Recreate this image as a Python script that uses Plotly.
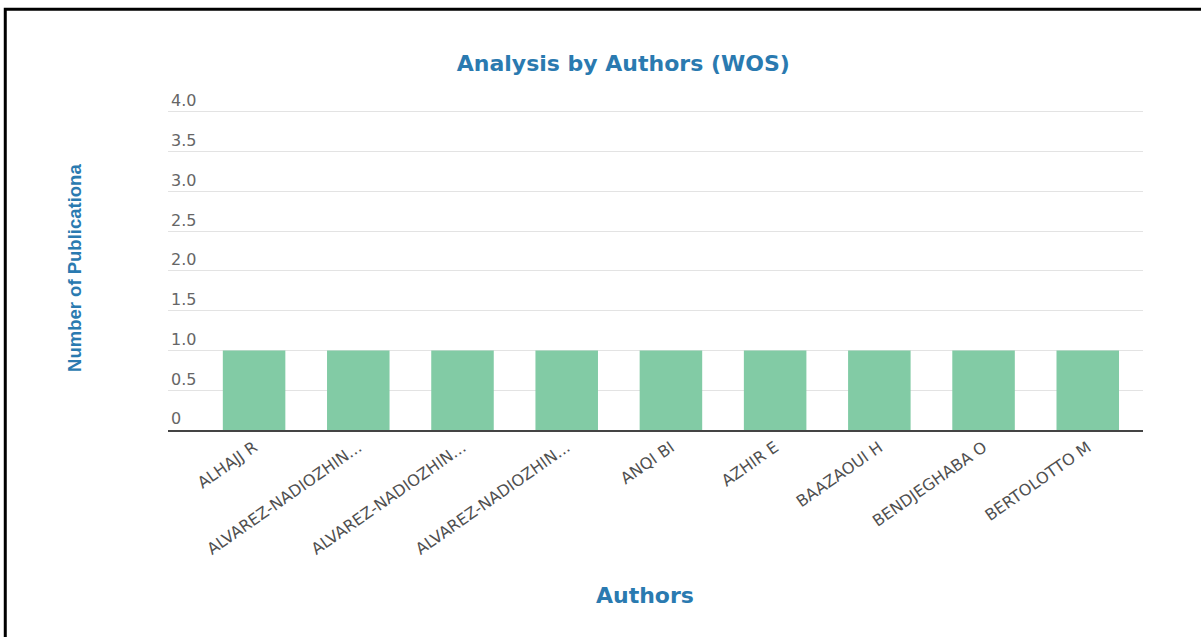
import plotly.graph_objects as go

# Author labels (as shown on the axis) and publication counts
authors = [
    "ALHAJJ R",
    "ALVAREZ-NADIOZHIN...",
    "ALVAREZ-NADIOZHIN...",
    "ALVAREZ-NADIOZHIN...",
    "ANQI BI",
    "AZHIR E",
    "BAAZAOUI H",
    "BENDJEGHABA O",
    "BERTOLOTTO M",
]
publications = [1, 1, 1, 1, 1, 1, 1, 1, 1]

y_ticks = [0, 0.5, 1.0, 1.5, 2.0, 2.5, 3.0, 3.5, 4.0]
y_tick_text = ["0", "0.5", "1.0", "1.5", "2.0", "2.5", "3.0", "3.5", "4.0"]

TITLE_BLUE = "#2a7ab0"
BAR_GREEN = "#82cba5"
positions = list(range(len(authors)))

# plot area: y=0 sits at 430px, 79.5px per unit; headroom above 4.0 keeps its label inside
Y_TOP = 4.3
PLOT_H = 4.3 * 79.5
TOP_MARGIN = 430 - PLOT_H

fig = go.Figure(
    go.Bar(
        x=positions,
        y=publications,
        marker=dict(color=BAR_GREEN, line=dict(width=0)),
        width=0.6,
        hoverinfo="skip",
    )
)

fig.update_layout(
    width=1201,
    height=637,
    autosize=False,
    margin=dict(l=168, r=58, t=TOP_MARGIN, b=207),
    paper_bgcolor="white",
    plot_bgcolor="white",
    showlegend=False,
    title=dict(
        text="<b>Analysis by Authors (WOS)</b>",
        font=dict(family="DejaVu Sans", size=22, color=TITLE_BLUE),
        x=0.467, xref="paper", xanchor="center",
        y=0.901, yref="container", yanchor="middle",
    ),
    xaxis=dict(
        range=[-0.826, 8.53],
        tickvals=positions,
        ticktext=authors,
        tickangle=-35,
        tickfont=dict(family="DejaVu Sans", size=16, color="#505050"),
        showline=True,
        linecolor="#444444",
        linewidth=2,
        showgrid=False,
        zeroline=False,
        ticks="",
    ),
    yaxis=dict(
        range=[0, Y_TOP],
        tickvals=y_ticks,
        ticktext=y_tick_text,
        ticklabelposition="inside top",
        tickfont=dict(family="DejaVu Sans", size=16, color="#666666"),
        showgrid=True,
        gridcolor="#e3e3e3",
        gridwidth=1,
        zeroline=False,
        showline=False,
        ticks="",
    ),
    annotations=[
        dict(
            text="<b>Number of Publicationa</b>",
            textangle=-90,
            x=-0.0954, y=(430 - 268) / PLOT_H, xref="paper", yref="paper",
            xanchor="center", yanchor="middle", showarrow=False,
            font=dict(family="Liberation Sans", size=18.5, color=TITLE_BLUE),
        ),
        dict(
            text="<b>Authors</b>",
            x=0.489, y=(430 - 595) / PLOT_H, xref="paper", yref="paper",
            xanchor="center", yanchor="middle", showarrow=False,
            font=dict(family="DejaVu Sans", size=22, color=TITLE_BLUE),
        ),
    ],
    shapes=[
        # outer frame around the chart
        dict(
            type="rect", xref="paper", yref="paper",
            x0=-0.1669, x1=1.2, y0=-1.0, y1=(430 - 9.5) / PLOT_H,
            line=dict(color="black", width=3),
            fillcolor="rgba(0,0,0,0)",
            layer="above",
        )
    ],
)

fig.write_html("out.html")
